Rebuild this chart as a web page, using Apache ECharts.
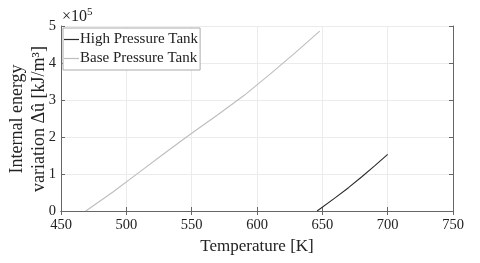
<!DOCTYPE html>
<html>
<head>
<meta charset="utf-8">
<script src="https://cdn.jsdelivr.net/npm/echarts@6/dist/echarts.min.js"></script>
<style>html,body{margin:0;padding:0;background:#fff;}#c{width:480px;height:263px;}</style>
</head>
<body>
<div id="c"></div>
<script>
// Temperature [K] and internal energy variation [kJ/m^3]
const highT = [646, 660, 670, 680, 690, 700];
const highU = [0, 36000, 63000, 92000, 122000, 153000];
const baseT = [469, 490, 510, 530, 550, 570, 590, 610, 630, 648];
const baseU = [0, 52000, 105000, 158000, 210000, 260000, 312000, 370000, 430000, 486000];
const xTicks = [450, 500, 550, 600, 650, 700, 750];
const yTicks = [0, 100000, 200000, 300000, 400000, 500000];
const seriesNames = ['High Pressure Tank', 'Base Pressure Tank'];
const yName = 'Internal energy\nvariation Δû [kJ/m³]';

const FONT = 'Liberation Serif';
const chart = echarts.init(document.getElementById('c'));
const pair = (xs, ys) => xs.map((x, i) => [x, ys[i]]);
const axisCol = '#666';
chart.setOption({
  animation: false,
  grid: {left: 61, top: 26, width: 392, height: 185, containLabel: false, outerBoundsMode: 'none'},
  legend: {
    orient: 'vertical', left: 63, top: 28,
    data: seriesNames,
    icon: 'rect',
    itemWidth: 15, itemHeight: 1.2, itemGap: 4,
    padding: [4, 2, 4, 1],
    borderColor: '#aaa', borderWidth: 1, backgroundColor: '#fff',
    textStyle: {fontFamily: FONT, fontSize: 15, color: '#222', padding: [0, 0, 0, -4]}
  },
  xAxis: [{
    type: 'value', min: xTicks[0], max: xTicks[xTicks.length - 1], interval: 50,
    position: 'bottom',
    axisLine: {show: true, lineStyle: {color: axisCol}},
    axisTick: {inside: true, length: 4, lineStyle: {color: axisCol}},
    axisLabel: {fontFamily: FONT, fontSize: 14.5, color: '#222', margin: 7},
    splitLine: {show: true, lineStyle: {color: '#ebebeb'}},
    name: 'Temperature [K]', nameLocation: 'middle', nameGap: 19,
    nameTextStyle: {fontFamily: FONT, fontSize: 17, color: '#222'}
  }, {
    type: 'value', min: xTicks[0], max: xTicks[xTicks.length - 1], interval: 50,
    position: 'top',
    axisLine: {show: true, lineStyle: {color: axisCol}},
    axisTick: {inside: true, length: 4, lineStyle: {color: axisCol}},
    axisLabel: {show: false}, splitLine: {show: false}
  }],
  yAxis: [{
    type: 'value', min: yTicks[0], max: yTicks[yTicks.length - 1], interval: 100000,
    position: 'left',
    axisLine: {show: true, lineStyle: {color: axisCol}},
    axisTick: {show: true, inside: true, length: 4, lineStyle: {color: axisCol}},
    axisLabel: {fontFamily: FONT, fontSize: 14.5, color: '#222', margin: 5,
      formatter: v => String(v / 100000)},
    splitLine: {show: true, lineStyle: {color: '#ebebeb'}}
  }, {
    type: 'value', min: yTicks[0], max: yTicks[yTicks.length - 1], interval: 100000,
    position: 'right',
    axisLine: {show: true, lineStyle: {color: axisCol}},
    axisTick: {show: true, inside: true, length: 4, lineStyle: {color: axisCol}},
    axisLabel: {show: false}, splitLine: {show: false}
  }],
  graphic: [{
    type: 'text', left: 62, top: 7,
    style: {
      rich: {
        a: {fontFamily: FONT, fontSize: 16, fill: '#222'},
        s: {fontFamily: FONT, fontSize: 11, fill: '#222', verticalAlign: 'top', padding: [0, 0, 8, 0]}
      },
      text: '{a|×10}{s|5}'
    }
  }, {
    type: 'text', x: 28, y: 119, rotation: Math.PI / 2,
    style: {
      text: yName, x: 0, y: 0, align: 'center', verticalAlign: 'middle',
      fontFamily: FONT, fontSize: 18, lineHeight: 22, fill: '#222'
    }
  }],
  series: [{
    name: seriesNames[0], type: 'line', data: pair(highT, highU), symbol: 'none',
    lineStyle: {color: '#2a2a2a', width: 1.1}, itemStyle: {color: '#2a2a2a'}
  }, {
    name: seriesNames[1], type: 'line', data: pair(baseT, baseU), symbol: 'none',
    lineStyle: {color: '#bdbdbd', width: 1.1}, itemStyle: {color: '#bdbdbd'}
  }]
});
</script>
</body>
</html>
